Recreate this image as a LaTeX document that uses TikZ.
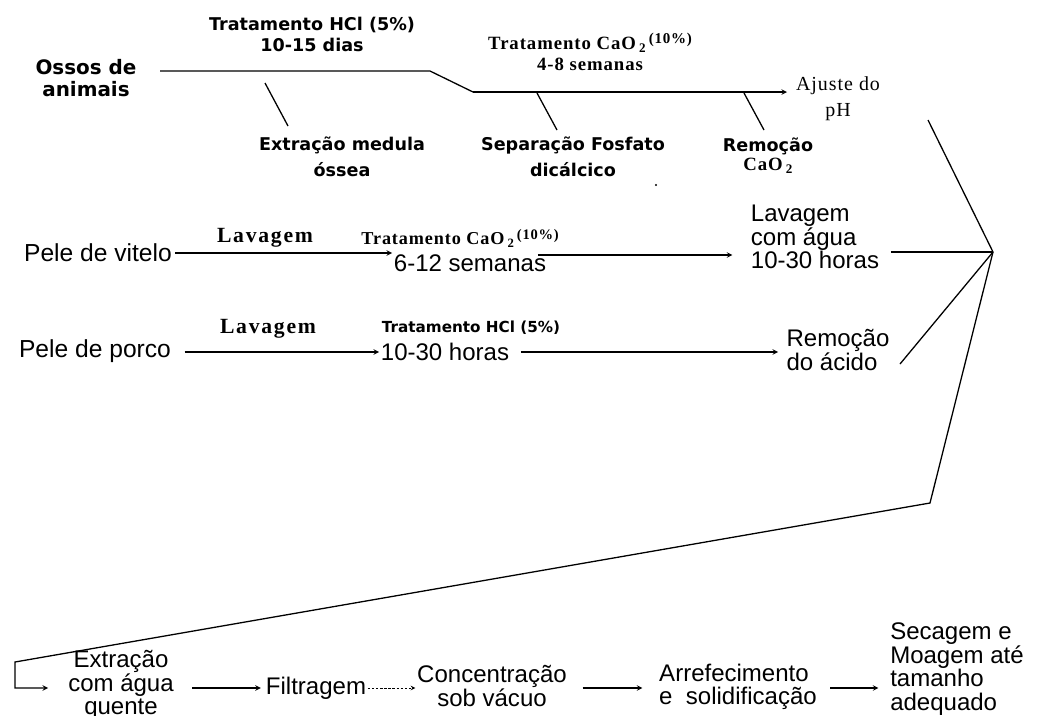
\documentclass[tikz,border=0pt]{standalone}
\usepackage{fontspec}
\usepackage{graphicx}
\setmainfont{Liberation Sans}
\newfontfamily\heavyfont{DejaVu Sans}
\newfontfamily\romanfont[LetterSpace=5]{Liberation Serif}
\newfontfamily\wideroman[LetterSpace=8]{Liberation Serif}
\usetikzlibrary{positioning}
\newcommand{\caosub}{CaO\,\raisebox{-0.35ex}{\scalebox{0.7}{2}}}
\newcommand{\dezpct}{\raisebox{0.6ex}{\scalebox{0.8}{(10\%)}}}
\tikzset{%
	step-text/.style={
		align=center,
		inner sep=1pt,
		font=\fontsize{20.5}{20}\selectfont
	},
	step-heavy/.style={
		align=center,
		inner sep=1pt,
		font=\heavyfont\bfseries\fontsize{15}{20}\selectfont
	},
	step-roman/.style={
		align=center,
		inner sep=1pt,
		font=\romanfont\bfseries\fontsize{16}{18}\selectfont
	},
	step-wash/.style={
		inner sep=1pt,
		font=\wideroman\bfseries\fontsize{18.5}{19}\selectfont
	},
	step-ph/.style={
		align=center,
		inner sep=1pt,
		font=\romanfont\fontsize{17}{22}\selectfont
	},
	flow/.style={->},
	flow-dashed/.style={->, dash pattern=on 2pt off 1.5pt, line width=0.8pt},
}
\begin{document}
\begin{tikzpicture}[x=0.03cm, y=-0.03cm, >=stealth, line width=1.1pt]
\useasboundingbox (0,0) rectangle (1037,715);

% bones
\node[step-heavy, font=\heavyfont\bfseries\fontsize{17}{19}\selectfont] (ossos) at (86,78) {Ossos de\\animais};
\node[step-heavy] (hcl-top) at (312,34) {Tratamento HCl (5\%)\\[-2pt]10-15 dias};
\node[step-heavy] (medula) at (342,157) {Extração medula\\[2pt]óssea};
\node[step-roman] (cao-top) at (590,52) {Tratamento \caosub\,\dezpct\\4-8 semanas};
\node[step-heavy] (fosfato) at (573,157) {Separação Fosfato\\[2pt]dicálcico};
\node[step-heavy] (remocao-top) at (768,156) {Remoção\\[-4pt]{\romanfont\bfseries\fontsize{16}{18}\selectfont\caosub}};
\node[step-ph] (ajuste) at (838,99) {Ajuste do\\pH};
\node[circle, fill, inner sep=0.7pt] (stray) at (656,185) {};

% calf skin
\node[step-text, font=\fontsize{21}{20}\selectfont] (vitelo) at (98,253) {Pele de vitelo};
\node[step-wash] (lav-vitelo) at (265,238) {Lavagem};
\node[step-roman, font=\romanfont\bfseries\fontsize{15.5}{18}\selectfont] (cao-vitelo) at (460,238) {Tratamento \caosub\,\dezpct};
\node[step-text] (semanas) at (470,263) {6-12 semanas};
\node[step-text, align=left] (lav-agua) at (815,237) {Lavagem\\com água\\10-30 horas};

% pig skin
\node[step-text, font=\fontsize{21}{20}\selectfont] (porco) at (95,351) {Pele de porco};
\node[step-wash] (lav-porco) at (268,329) {Lavagem};
\node[step-heavy, font=\heavyfont\bfseries\fontsize{13}{16}\selectfont] (hcl-porco) at (471,328) {Tratamento HCl (5\%)};
\node[step-text] (horas) at (445,352) {10-30 horas};
\node[step-text, align=left] (remocao-acido) at (838,350) {Remoção\\do ácido};

% final steps
\node[step-text] (extracao) at (121,685) {Extração\\com água\\quente};
\node[step-text] (filtragem) at (316,688) {Filtragem};
\node[step-text] (concentracao) at (492,686) {Concentração\\sob vácuo};
\node[step-text, align=left] (arrefecimento) at (738,687) {Arrefecimento\\e\ \ solidificação};
\node[step-text, align=left] (secagem) at (957,669) {Secagem e\\Moagem até\\tamanho\\adequado};

% line points
\coordinate (bone-a) at (160,71);
\coordinate (bone-b) at (430,71);
\coordinate (bone-c) at (473,92);
\coordinate (bone-d) at (787,92);
\coordinate (merge) at (993,252);
\coordinate (ph-out) at (928,120);
\coordinate (acid-out) at (900,364);
\coordinate (bend) at (930,503);
\coordinate (corner) at (15,662);
\coordinate (row-vitelo) at (0,255);
\coordinate (row-porco) at (0,352);
\coordinate (row-final) at (0,688);

% bone line and side outputs
\draw (bone-a) -- (bone-b) -- (bone-c);
\draw[flow] (bone-c) -- (bone-d);
\foreach \n/\xa/\ya/\xb/\yb in {1/265/83/288/126, 2/537/93/557/130, 3/744/93/764/130} {
	\coordinate (cut-\n-a) at (\xa,\ya);
	\coordinate (cut-\n-b) at (\xb,\yb);
	\draw (cut-\n-a) -- (cut-\n-b);
}

% skin lines
\draw[flow, shorten <=0.05cm] (vitelo.east) -- (semanas.west |- vitelo.east);
\draw[flow, shorten <=-0.3cm, shorten >=0.5cm] (semanas.east |- row-vitelo) -- (lav-agua.west |- row-vitelo);
\draw[flow, shorten <=0.36cm] (porco.east |- row-porco) -- (horas.west |- row-porco);
\draw[flow, shorten <=0.3cm, shorten >=0.2cm] (horas.east |- row-porco) -- (remocao-acido.west |- row-porco);

% merging
\draw (ph-out) -- (merge);
\draw[shorten <=0.3cm] (lav-agua.east |- merge) -- (merge);
\draw (acid-out) -- (merge);
\draw[flow, shorten >=0.55cm] (merge) -- (bend) -- (corner) -- (corner |- row-final) -- (extracao.west |- row-final);

% final chain
\draw[flow, shorten <=0.5cm, shorten >=0.1cm] (extracao.east |- row-final) -- (filtragem.west |- row-final);
\draw[flow-dashed] (filtragem.east |- row-final) -- (concentracao.west |- row-final);
\draw[flow, shorten <=0.42cm, shorten >=0.45cm] (concentracao.east |- row-final) -- (arrefecimento.west |- row-final);
\draw[flow, shorten <=0.35cm, shorten >=0.3cm] (arrefecimento.east |- row-final) -- (secagem.west |- row-final);

\end{tikzpicture}
\end{document}
